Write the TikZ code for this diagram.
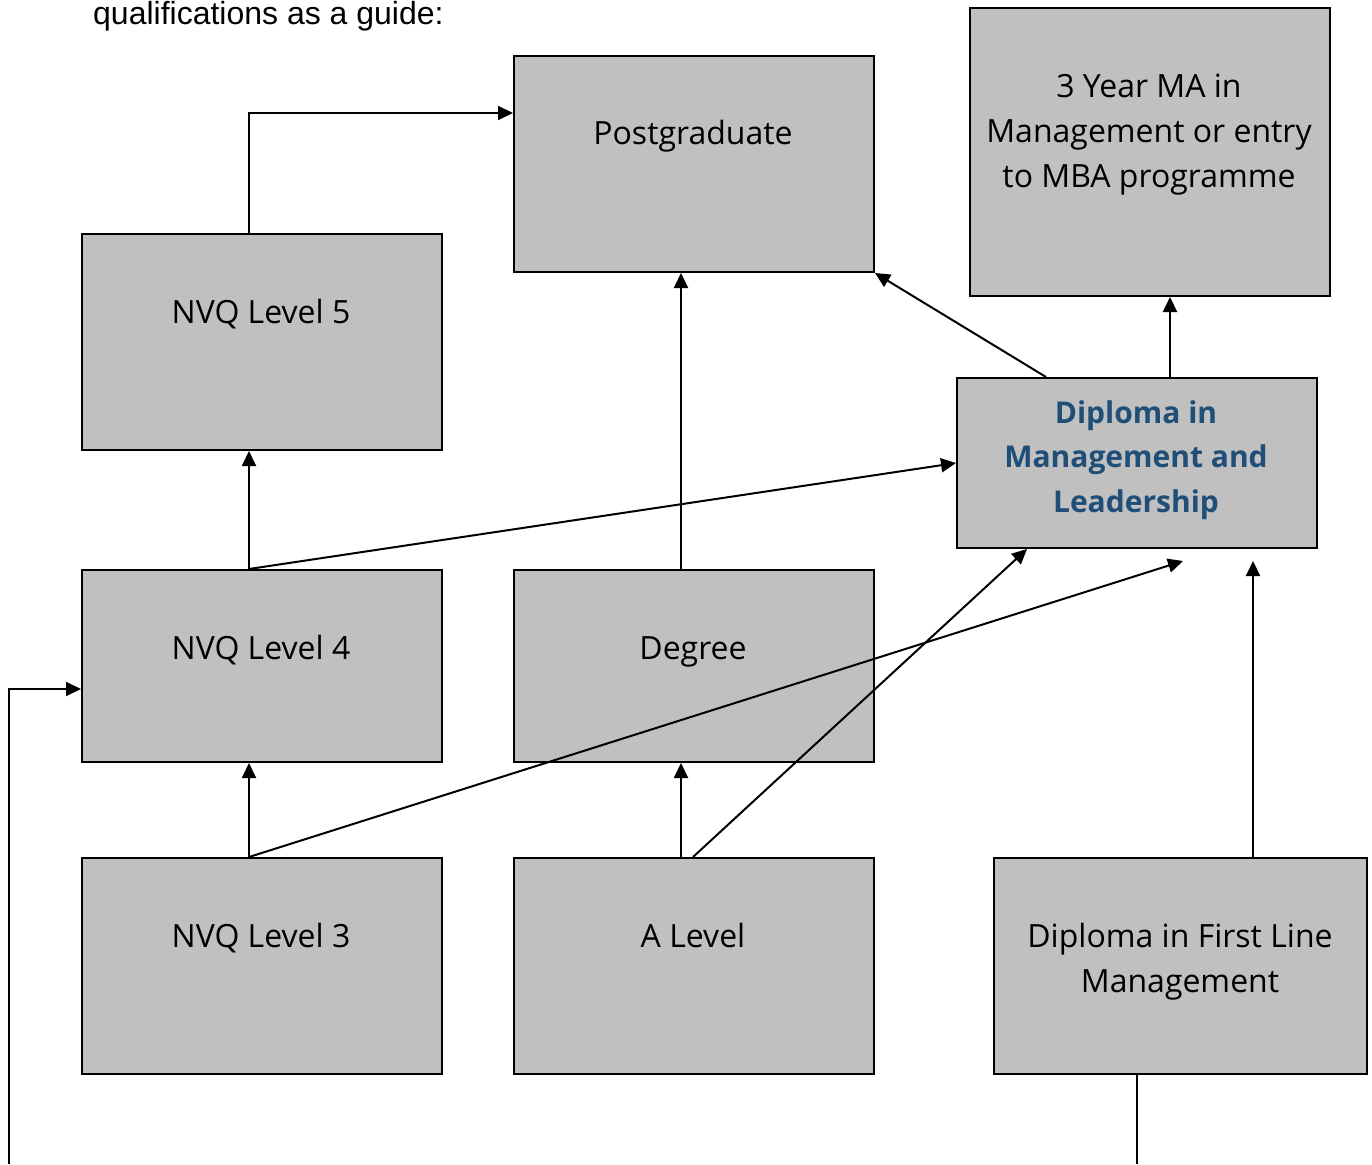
\documentclass[tikz,border=0pt]{standalone}
\usepackage{fontspec}
\setmainfont{Open Sans}
\newfontfamily\arialfont{Liberation Sans}
\usetikzlibrary{arrows.meta,calc}
\definecolor{boxgray}{HTML}{C0C0C0}
\definecolor{dipblue}{HTML}{1F4E79}
\tikzset{
  qbox/.style={draw=black, line width=2pt, fill=boxgray, anchor=north west, inner sep=0pt},
  qtext/.style={anchor=base, align=center, font=\fontsize{32}{45}\selectfont, inner sep=0pt},
  conn/.style={line width=2pt, -{Triangle[length=15pt,width=14pt]}},
  plain/.style={line width=2pt},
}
\begin{document}
\begin{tikzpicture}[x=1pt,y=-1pt]
\useasboundingbox (0,0) rectangle (1372,1164);
% top text
\node[anchor=base west, inner sep=0pt, font=\arialfont\fontsize{32}{38}\selectfont] (intro) at (93,25) {qualifications as a guide:};
% boxes
\node[qbox, minimum width=360, minimum height=216] (pg)  at (513,55) {};
\node[qbox, minimum width=360, minimum height=288] (ma)  at (969,7) {};
\node[qbox, minimum width=360, minimum height=216] (n5)  at (81,233) {};
\node[qbox, minimum width=360, minimum height=170] (dml) at (956,377) {};
\node[qbox, minimum width=360, minimum height=192] (n4)  at (81,569) {};
\node[qbox, minimum width=360, minimum height=192] (deg) at (513,569) {};
\node[qbox, minimum width=360, minimum height=216] (n3)  at (81,857) {};
\node[qbox, minimum width=360, minimum height=216] (al)  at (513,857) {};
\node[qbox, minimum width=373, minimum height=216] (dfl) at (993,857) {};
% texts (multi-line texts are placed by the baseline of their last line)
\node[qtext] (pgt)  at (693,144) {Postgraduate};
\node[qtext] (mat)  at (1149,187) {3 Year MA in\\Management or entry\\to MBA programme};
\node[qtext] (n5t)  at (261,323) {NVQ Level 5};
\node[qtext, text=dipblue, font=\bfseries\fontsize{30}{44.5}\selectfont] (dmlt) at (1136,512) {Diploma in\\Management and\\Leadership};
\node[qtext] (n4t)  at (261,659) {NVQ Level 4};
\node[qtext] (degt) at (693,659) {Degree};
\node[qtext] (n3t)  at (261,947) {NVQ Level 3};
\node[qtext] (alt)  at (693,947) {A Level};
\node[qtext] (dflt) at (1180,992) {Diploma in First Line\\Management};
% free ends
\coordinate (e1) at (1183,561);
\coordinate (e2) at (1253,561);
\coordinate (b1) at (9,1164);
\coordinate (b2) at (1137,1164);
% connectors
\draw[conn] ($(n5.north west)+(168,0)$) |- ($(pg.north west)+(0,58)$);
\draw[conn] ($(deg.north west)+(168,0)$) -- ($(pg.south west)+(168,0)$);
\draw[conn] ($(dml.north west)+(90,0)$) -- (pg.south east);
\draw[conn] ($(dml.north west)+(214,0)$) -- ($(ma.south west)+(201,0)$);
\draw[conn] ($(n4.north west)+(168,0)$) -- ($(n5.south west)+(168,0)$);
\draw[conn] ($(n4.north west)+(168,0)$) -- (dml.west);
\draw[conn] ($(n3.north west)+(168,0)$) -- ($(n4.south west)+(168,0)$);
\draw[conn] ($(n3.north west)+(168,0)$) -- (e1);
\draw[conn] ($(al.north west)+(168,0)$) -- ($(deg.south west)+(168,0)$);
\draw[conn] ($(al.north west)+(180,0)$) -- ($(dml.south west)+(71,0)$);
\draw[conn] ($(dfl.north west)+(260,0)$) -- (e2);
\draw[conn] (b1) |- ($(n4.north west)+(0,120)$);
\draw[plain] ($(dfl.south west)+(144,0)$) -- (b2);
\end{tikzpicture}
\end{document}
